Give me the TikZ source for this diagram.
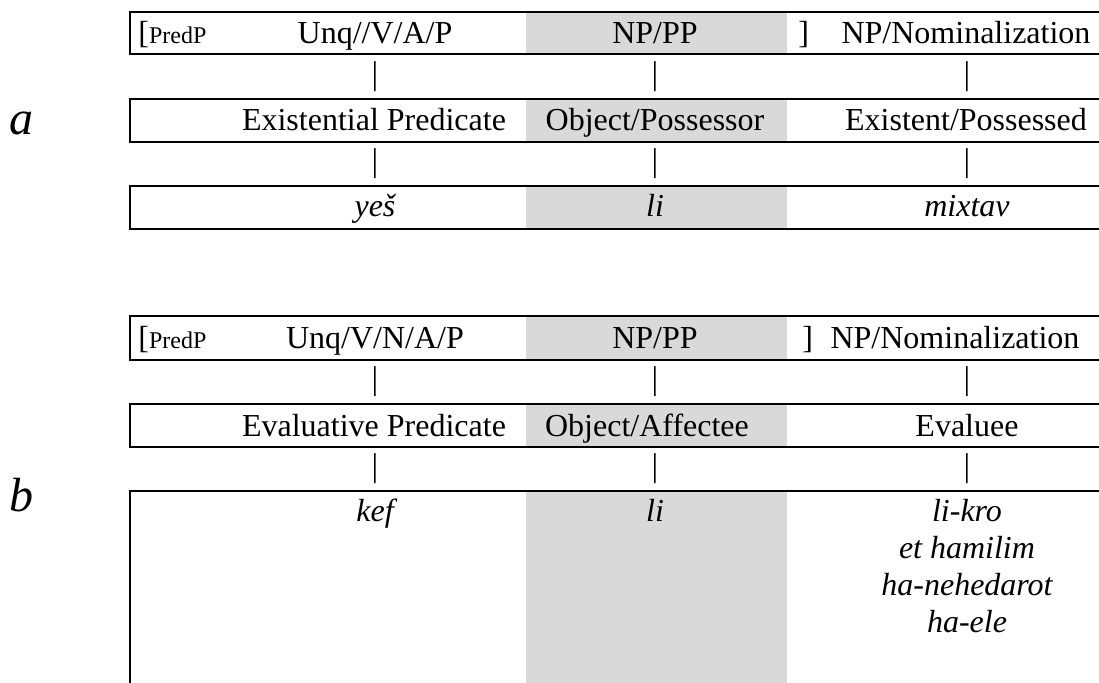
\documentclass[tikz,border=0pt]{standalone}
\usepackage{fontspec}
\setmainfont{Liberation Serif}
\usepackage{xcolor}
\usetikzlibrary{positioning}
\definecolor{cellgray}{HTML}{D9D9D9}

\begin{document}
\begin{tikzpicture}[
      x=0.5pt, y=-0.5pt,
      cell/.style={
        anchor=base,
        inner sep=0pt,
        font=\fontsize{16}{18.5}\selectfont
      },
      gloss/.style={cell, font=\fontsize{16}{18.5}\selectfont\itshape},
      bar/.style={inner sep=0pt, font=\fontsize{16.5}{18.5}\selectfont},
      tag/.style={anchor=base, inner sep=0pt, font=\fontsize{24}{28}\selectfont\itshape},
      rule/.style={line width=1.35pt},
      shade/.style={fill=cellgray}
    ]
      \clip (0,0) rectangle (1099,682);

      % Shaded column
      \fill[shade] (526,12) rectangle (787,54);
      \fill[shade] (526,99) rectangle (787,142);
      \fill[shade] (526,186) rectangle (787,229);
      \fill[shade] (526,316) rectangle (787,360);
      \fill[shade] (526,404) rectangle (787,447);
      \fill[shade] (526,491) rectangle (787,700);

      % Row frames
      \draw[rule] (1110,12) -| (130,54) -- (1110,54);
      \draw[rule] (1110,99) -| (130,142) -- (1110,142);
      \draw[rule] (1110,186) -| (130,229) -- (1110,229);
      \draw[rule] (1110,316) -| (130,360) -- (1110,360);
      \draw[rule] (1110,404) -| (130,447) -- (1110,447);
      \draw[rule] (1110,491) -| (130,700);

      % Labels
      \node[tag] (taga) at (22,134) {a};
      \node[tag] (tagb) at (22,511) {b};

      % Existential: categories
      \node[cell, anchor=base west] (apred) at (138,43) {[{\fontsize{12}{14}\selectfont PredP}};
      \node[cell] (acat1) at (375,43) {Unq//V/A/P};
      \node[cell] (acat2) at (655,43) {NP/PP};
      \node[cell, anchor=base west] (aclose) at (798,43) {]};
      \node[cell] (acat3) at (966,43) {NP/Nominalization};

      \node[bar] (abar1) at (375,77) {|};
      \node[bar] (abar2) at (655,77) {|};
      \node[bar] (abar3) at (967,77) {|};

      % Existential: roles
      \node[cell] (arole1) at (374,130) {Existential Predicate};
      \node[cell] (arole2) at (655,130) {Object/Possessor};
      \node[cell] (arole3) at (966,130) {Existent/Possessed};

      \node[bar] (abar4) at (375,164) {|};
      \node[bar] (abar5) at (655,164) {|};
      \node[bar] (abar6) at (967,164) {|};

      % Existential: words
      \node[gloss] (aword1) at (375,216) {yeš};
      \node[gloss] (aword2) at (655,216) {li};
      \node[gloss] (aword3) at (967,216) {mixtav};

      % Evaluative: categories
      \node[cell, anchor=base west] (bpred) at (138,348) {[{\fontsize{12}{14}\selectfont PredP}};
      \node[cell] (bcat1) at (375,348) {Unq/V/N/A/P};
      \node[cell] (bcat2) at (655,348) {NP/PP};
      \node[cell, anchor=base west] (bclose) at (802,348) {]};
      \node[cell] (bcat3) at (955,348) {NP/Nominalization};

      \node[bar] (bbar1) at (375,382) {|};
      \node[bar] (bbar2) at (655,382) {|};
      \node[bar] (bbar3) at (967,382) {|};

      % Evaluative: roles
      \node[cell] (brole1) at (374,436) {Evaluative Predicate};
      \node[cell] (brole2) at (647,436) {Object/Affectee};
      \node[cell] (brole3) at (967,436) {Evaluee};

      \node[bar] (bbar4) at (375,469) {|};
      \node[bar] (bbar5) at (655,469) {|};
      \node[bar] (bbar6) at (967,469) {|};

      % Evaluative: words
      \node[gloss] (bword1) at (375,521) {kef};
      \node[gloss] (bword2) at (655,521) {li};
      \node[gloss, anchor=north, align=center] (bword3) at (967,499)
        {li-kro\\et hamilim\\ha-nehedarot\\ha-ele};
    \end{tikzpicture}
\end{document}
